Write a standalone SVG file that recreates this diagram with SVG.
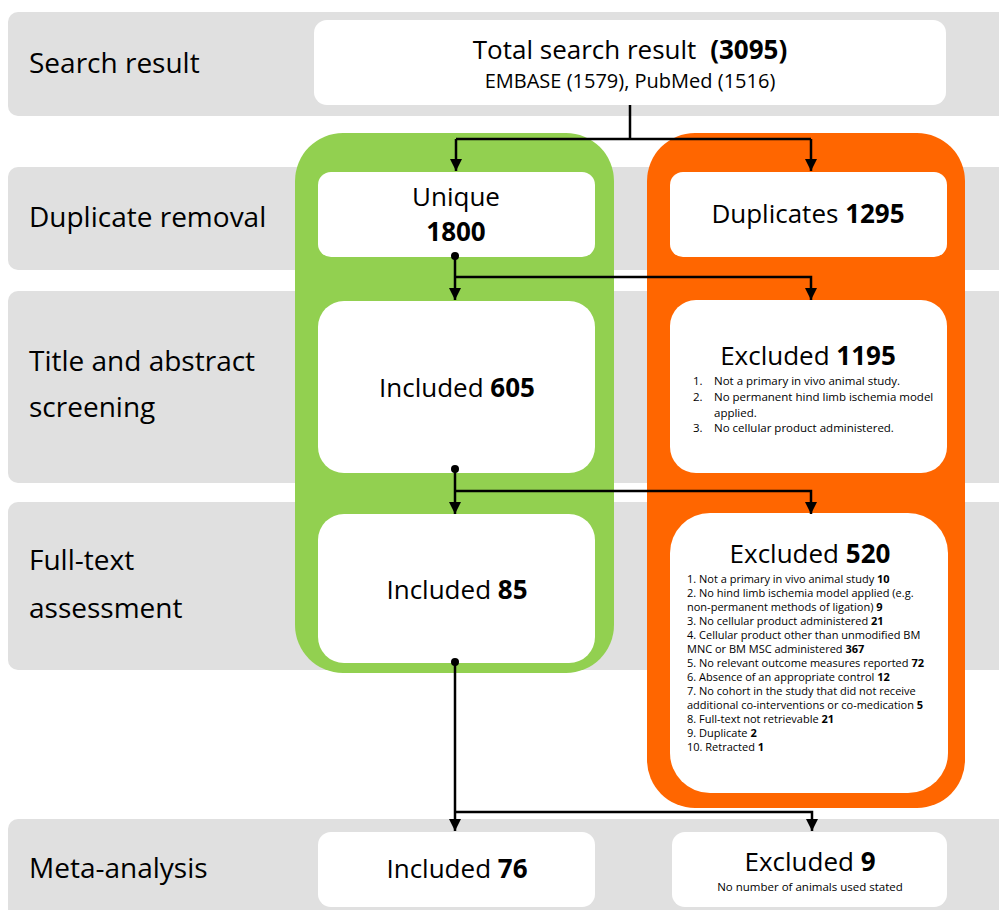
<svg xmlns="http://www.w3.org/2000/svg" width="999" height="910" viewBox="0 0 999 910">
<defs>
<style>
.band{fill:#e0e0e0}
.box{fill:#ffffff}
.t{font-family:"Open Sans","Noto Sans","DejaVu Sans",sans-serif;fill:#000}
.lab{font-size:28px}
.big{font-size:26px}
.c{text-anchor:middle}
.b{font-weight:bold}
.li{font-size:11px}
.li2{font-size:11.5px}
.conn{fill:none;stroke:#000;stroke-width:2.5}
</style>
<marker id="ah" markerWidth="12" markerHeight="12" viewBox="0 0 12 12" refX="12" refY="6" orient="auto" markerUnits="userSpaceOnUse">
<path d="M0,0 L12,6 L0,12 z" fill="#000"/>
</marker>
</defs>
<rect width="999" height="910" fill="#fff"/>
<g id="bands">
<rect class="band" x="8" y="12" width="1010" height="104" rx="10"/>
<rect class="band" x="8" y="167" width="1010" height="103" rx="10"/>
<rect class="band" x="8" y="291" width="1010" height="192" rx="10"/>
<rect class="band" x="8" y="502" width="1010" height="168" rx="10"/>
<rect class="band" x="8" y="819" width="1010" height="110" rx="10"/>
</g>
<g id="stage-labels">
<text class="t lab" x="29" y="73">Search result</text>
<text class="t lab" x="29" y="227">Duplicate removal</text>
<text class="t lab" x="29" y="371">Title and abstract</text>
<text class="t lab" x="29" y="417">screening</text>
<text class="t lab" x="29" y="570">Full-text</text>
<text class="t lab" x="29" y="618">assessment</text>
<text class="t lab" x="29" y="878">Meta-analysis</text>
</g>
<g id="col-included"><rect x="295" y="133" width="319" height="540" rx="48" fill="#92d050"/></g>
<g id="col-excluded"><rect x="647" y="133" width="318" height="675" rx="48" fill="#ff6600"/></g>
<g id="n-total">
<rect class="box" x="314" y="20" width="632" height="85" rx="13"/>
<text class="t big c" x="630" y="59">Total search result <tspan class="b" dx="7">(3095)</tspan></text>
<text class="t c" x="630" y="88" font-size="20">EMBASE (1579), PubMed (1516)</text>
</g>
<g id="n-unique">
<rect class="box" x="318" y="172" width="277" height="85" rx="13"/>
<text class="t big c" x="456" y="206">Unique</text>
<text class="t big c b" x="456" y="241">1800</text>
</g>
<g id="n-duplicates">
<rect class="box" x="670" y="172" width="277" height="85" rx="13"/>
<text class="t big c" x="808" y="223">Duplicates <tspan class="b">1295</tspan></text>
</g>
<g id="n-included605">
<rect class="box" x="318" y="301" width="277" height="172" rx="26"/>
<text class="t big c" x="457" y="397">Included <tspan class="b">605</tspan></text>
</g>
<g id="n-excluded1195">
<rect class="box" x="670" y="300" width="277" height="173" rx="26"/>
<text class="t big c" x="808" y="365">Excluded <tspan class="b">1195</tspan></text>
<text class="t li2" x="693" y="385">1.</text><text class="t li2" x="714" y="385">Not a primary in vivo animal study.</text>
<text class="t li2" x="693" y="401">2.</text><text class="t li2" x="714" y="401">No permanent hind limb ischemia model</text>
<text class="t li2" x="714" y="417">applied.</text>
<text class="t li2" x="693" y="432">3.</text><text class="t li2" x="714" y="432">No cellular product administered.</text>
</g>
<g id="n-included85">
<rect class="box" x="318" y="514" width="277" height="149" rx="26"/>
<text class="t big c" x="457" y="599">Included <tspan class="b">85</tspan></text>
</g>
<g id="n-excluded520">
<rect class="box" x="670" y="513" width="278" height="280" rx="40"/>
<text class="t big c" x="810" y="563">Excluded <tspan class="b">520</tspan></text>
<g class="t li">
<text x="687" y="583">1. Not a primary in vivo animal study <tspan class="b">10</tspan></text>
<text x="687" y="597">2. No hind limb ischemia model applied (e.g.</text>
<text x="687" y="611">non-permanent methods of ligation) <tspan class="b">9</tspan></text>
<text x="687" y="625">3. No cellular product administered <tspan class="b">21</tspan></text>
<text x="687" y="639">4. Cellular product other than unmodified BM</text>
<text x="687" y="653">MNC or BM MSC administered <tspan class="b">367</tspan></text>
<text x="687" y="667">5. No relevant outcome measures reported <tspan class="b">72</tspan></text>
<text x="687" y="681">6. Absence of an appropriate control <tspan class="b">12</tspan></text>
<text x="687" y="695">7. No cohort in the study that did not receive</text>
<text x="687" y="709">additional co-interventions or co-medication <tspan class="b">5</tspan></text>
<text x="687" y="723">8. Full-text not retrievable <tspan class="b">21</tspan></text>
<text x="687" y="737">9. Duplicate <tspan class="b">2</tspan></text>
<text x="687" y="751">10. Retracted <tspan class="b">1</tspan></text>
</g>
</g>
<g id="n-included76">
<rect class="box" x="318" y="832" width="277" height="75" rx="13"/>
<text class="t big c" x="457" y="878">Included <tspan class="b">76</tspan></text>
</g>
<g id="n-excluded9">
<rect class="box" x="672" y="832" width="275" height="75" rx="13"/>
<text class="t big c" x="810" y="871">Excluded <tspan class="b">9</tspan></text>
<text class="t c" x="810" y="891" font-size="11.5">No number of animals used stated</text>
</g>
<g id="connectors">
<path class="conn" d="M630,105 V139"/>
<path class="conn" d="M456,139 H811"/>
<path class="conn" d="M456,139 V171" marker-end="url(#ah)"/>
<path class="conn" d="M811,139 V171" marker-end="url(#ah)"/>
<circle cx="455" cy="256" r="4" fill="#000"/>
<path class="conn" d="M455,256 V300" marker-end="url(#ah)"/>
<path class="conn" d="M455,277 H811 V300" marker-end="url(#ah)"/>
<circle cx="455" cy="469" r="4" fill="#000"/>
<path class="conn" d="M455,469 V514" marker-end="url(#ah)"/>
<path class="conn" d="M455,491 H811 V514" marker-end="url(#ah)"/>
<circle cx="455" cy="662" r="4" fill="#000"/>
<path class="conn" d="M455,662 V831" marker-end="url(#ah)"/>
<path class="conn" d="M455,812 H812 V831" marker-end="url(#ah)"/>
</g>
</svg>
